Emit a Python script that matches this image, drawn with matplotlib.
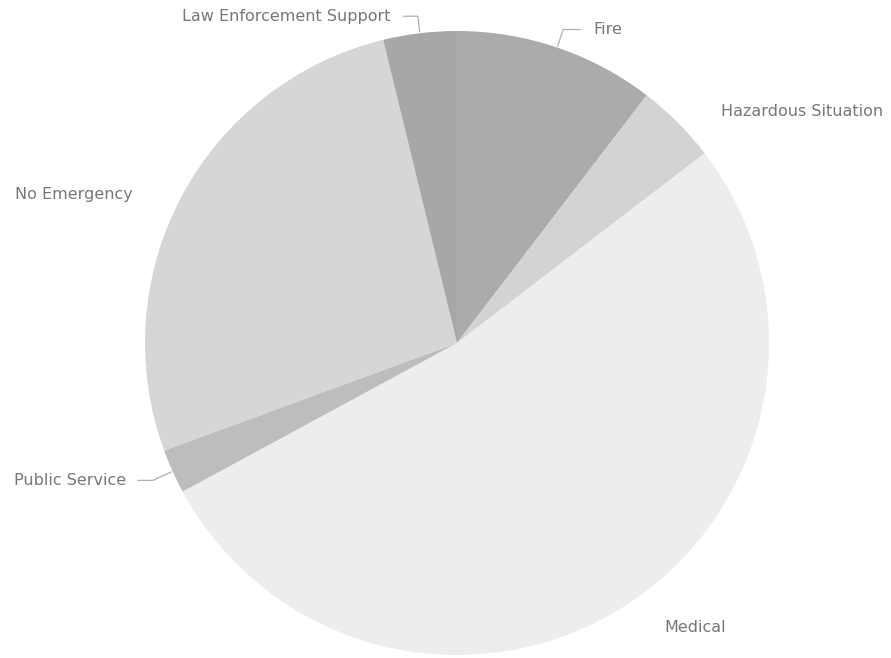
import numpy as np
import matplotlib
matplotlib.use("Agg")
import matplotlib.pyplot as plt

categories = ["Fire", "Hazardous Situation", "Medical", "Public Service",
              "No Emergency", "Law Enforcement Support"]
values = [10.4, 4.2, 52.5, 2.3, 26.8, 3.8]
colors = ["#ababab", "#d3d3d3", "#ededed", "#bdbdbd", "#d6d6d6", "#a7a7a7"]

W, H, DPI = 891, 658, 100
fig = plt.figure(figsize=(W / DPI, H / DPI), dpi=DPI)
ax = fig.add_axes([0, 0, 1, 1])
cx, cy, R = 457, 343, 312  # pixel centre / radius

wedges, _ = ax.pie(values, colors=colors, startangle=90, counterclock=False,
                   radius=1.0, center=(0, 0), wedgeprops=dict(linewidth=0))
ax.set_xlim(-cx / R, (W - cx) / R)
ax.set_ylim(-(H - cy) / R, cy / R)
ax.set_aspect("equal")
ax.axis("off")

# label offsets (pixels) from the wedge's outer mid point, alignment, leader line
label_style = {
    "Fire": ((36, 18), "left", True),
    "Hazardous Situation": ((43, 11), "left", False),
    "Medical": ((38, -23), "left", False),
    "Public Service": ((-47, -9), "right", True),
    "No Emergency": ((-49, 2), "right", False),
    "Law Enforcement Support": ((-29, 17), "right", True),
}

for w, name in zip(wedges, categories):
    mid_deg = (w.theta1 + w.theta2) / 2
    mid = np.deg2rad(mid_deg)
    x, y = np.cos(mid), np.sin(mid)
    (dx, dy), ha, line = label_style[name]
    kw = dict(xy=(x, y), xytext=(dx, dy), textcoords="offset pixels",
              ha=ha, va="center", fontsize=11.5, color="#777777",
              family=["DejaVu Sans"])
    if line:
        kw["arrowprops"] = dict(arrowstyle="-", color="#b0b0b0", lw=0.9,
                                shrinkA=7, shrinkB=1,
                                connectionstyle=f"angle,angleA=0,angleB={mid_deg % 360:.1f},rad=0",
                                relpos=(0, 0.5) if ha == "left" else (1, 0.5))
    ax.annotate(name, **kw)

fig.savefig("out.png", dpi=DPI, facecolor="white")
